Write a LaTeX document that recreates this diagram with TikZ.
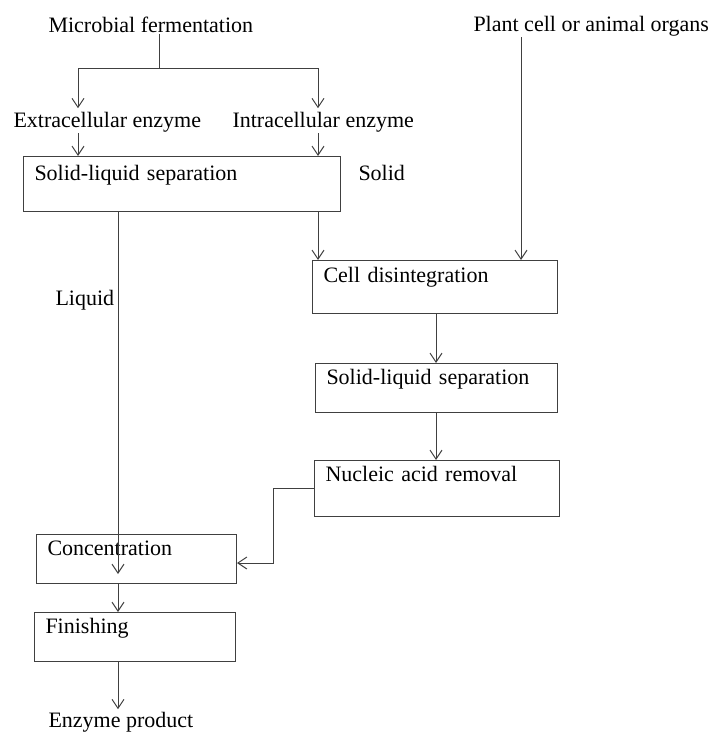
\documentclass[tikz,border=0pt]{standalone}
\usepackage{fontspec}
\setmainfont{Liberation Serif}
\usetikzlibrary{arrows.meta,positioning}

\begin{document}
\begin{tikzpicture}[->,>={Straight Barb[length=9pt,width=12pt]},x=1pt,y=-1pt,
  line width=1pt,draw=black!75,
  every node/.style={font=\fontsize{22}{26}\selectfont,inner sep=0pt},
  txt/.style={anchor=base west},
  box/.style={draw=black!75,anchor=north west,align=left,inner xsep=11pt,inner ysep=0pt,text height=21pt,text depth=28pt}]
\useasboundingbox (0,0) rectangle (715,733);
%
\node [txt] (mf) at (48,33) {Microbial fermentation};
\node [txt] (ext) at (13,128) {Extracellular enzyme};
\node [txt] (int) at (232,128) {Intracellular enzyme};
\node [txt] (plant) at (473,32) {Plant cell or animal organs};
\node [box,text width=295pt,text height=24pt,text depth=31pt] (sep1) at (23,156) {Solid-liquid separation};
\node [txt] (solid) at (358,180) {Solid};
\node [txt] (liquid) at (55,305) {Liquid};
%
\node [box,text width=223pt,text height=22pt,text depth=31pt] (cell) at (312,260) {Cell disintegration};
\node [box,text width=220pt] (sep2) at (315,363) {Solid-liquid separation};
\node [box,text width=223pt,text depth=35pt] (nucl) at (314,460) {Nucleic acid removal};
\node [box,text width=178pt] (conc) at (36,534) {Concentration};
\node [box,text width=179pt] (fin) at (34,612) {Finishing};
\node [txt] (prod) at (48,727) {Enzyme product};
%
\coordinate (split) at (159,69);
\coordinate (xl) at (78,0);
\coordinate (xr) at (318,0);
\coordinate (xliq) at (118,0);
\coordinate (xp) at (521,0);
\coordinate (xc) at (436,0);
\coordinate (bend) at (273,563);
\coordinate (liqend) at (118,574);
%
\draw [-] (split |- mf.south) -- (split);
\draw [shorten >=4pt] (split) -| (xl |- ext.north);
\draw [shorten >=4pt] (split) -| (xr |- int.north);
\draw (xl |- ext.south) -- (xl |- sep1.north);
\draw (xr |- int.south) -- (xr |- sep1.north);
\draw (xr |- sep1.south) -- (xr |- cell.north);
\draw (xp |- plant.south) -- (xp |- cell.north);
\draw (xliq |- sep1.south) -- (liqend);
\draw (xc |- cell.south) -- (xc |- sep2.north);
\draw (xc |- sep2.south) -- (xc |- nucl.north);
\draw (nucl.west) -| (bend) -- (bend -| conc.east);
\draw (xliq |- conc.south) -- (xliq |- fin.north);
\draw [shorten >=2pt] (xliq |- fin.south) -- (xliq |- prod.north);
\end{tikzpicture}
\end{document}
